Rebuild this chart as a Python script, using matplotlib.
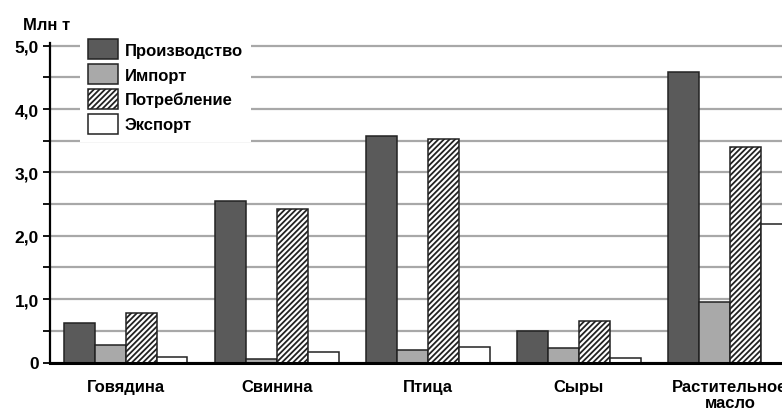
import numpy as np
import matplotlib
matplotlib.use("Agg")
import matplotlib.pyplot as plt

plt.rcParams['font.family'] = ['Liberation Sans', 'DejaVu Sans']
plt.rcParams['font.weight'] = 'bold'
plt.rcParams['hatch.linewidth'] = 1.3

# data (млн т)
categories = ["Говядина", "Свинина", "Птица", "Сыры", "Растительное\nмасло"]
production = [0.62, 2.55, 3.57, 0.50, 4.58]
imports = [0.27, 0.06, 0.20, 0.23, 0.95]
consumption = [0.78, 2.43, 3.52, 0.66, 3.40]
exports = [0.08, 0.16, 0.24, 0.07, 2.19]
series_names = ["Производство", "Импорт", "Потребление", "Экспорт"]
yticks = [0, 1, 2, 3, 4, 5]
ytick_labels = ["0", "1,0", "2,0", "3,0", "4,0", "5,0"]

fig = plt.figure(figsize=(7.82, 4.14), dpi=100)
ax = fig.add_axes([50/782, 50.5/414, 732/782, 320/414])

x = np.arange(len(categories))
w = 0.205

b1 = ax.bar(x - 1.5*w, production, w, color='#5a5a5a', edgecolor='#222222', lw=1.1, zorder=3)
b2 = ax.bar(x - 0.5*w, imports, w, color='#a9a9a9', edgecolor='#222222', lw=1.1, zorder=3)
b3 = ax.bar(x + 0.5*w, consumption, w, color='white', edgecolor='#222222', lw=1.1,
            hatch='//////', zorder=3)
b4 = ax.bar(x + 1.5*w, exports, w, color='white', edgecolor='#222222', lw=1.1, zorder=3)

ax.set_xlim(-0.5, 4.345)
ax.set_ylim(0, 5.05)

# grid every 0.5
ax.set_yticks(yticks)
ax.set_yticklabels(ytick_labels, fontsize=12.5, fontweight='bold')
ax.set_yticks(np.arange(0.5, 5, 1.0), minor=True)
ax.yaxis.grid(True, which='both', color='#a8a8a8', lw=1.6, zorder=0)
ax.tick_params(axis='y', which='both', direction='out', length=5, width=1.3, color='black', pad=3)
ax.tick_params(axis='x', length=0, pad=12)

ax.set_xticks(x)
ax.set_xticklabels(categories, fontsize=12, fontweight='bold', linespacing=1.05)

for s in ['top', 'right']:
    ax.spines[s].set_visible(False)
ax.spines['left'].set_linewidth(1.6)
ax.spines['bottom'].set_linewidth(2.2)
ax.spines['bottom'].set_zorder(4)

fig.text(23/782, 1 - 26/414, "Млн т", fontsize=12, fontweight='bold', va='center')

leg = ax.legend([b1, b2, b3, b4], series_names, loc='upper left',
                bbox_to_anchor=(80/782, 1 - 32/414), bbox_transform=fig.transFigure,
                fontsize=12, frameon=True, facecolor='white', edgecolor='none', framealpha=1,
                fancybox=False, handlelength=1.75, handleheight=1.45, labelspacing=0.3,
                handletextpad=0.45, borderpad=0.5, borderaxespad=0)
leg.set_zorder(5)
for t in leg.get_texts():
    t.set_fontweight('bold')

fig.savefig("out.png", dpi=100)
